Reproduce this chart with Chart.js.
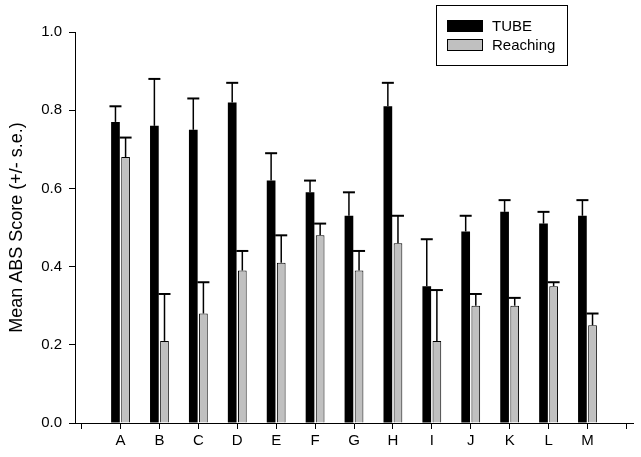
<!DOCTYPE html>
<html><head><meta charset="utf-8">
<script src="https://cdn.jsdelivr.net/npm/chart.js@4"></script>
<style>html,body{margin:0;padding:0;background:#fff}#wrap{width:641px;height:457px;position:relative}</style>
</head><body><div id="wrap"><canvas id="c"></canvas></div>
<script>
const categories = ['A','B','C','D','E','F','G','H','I','J','K','L','M'];
const seriesNames = ['TUBE','Reaching'];
const tubeMean = [0.77,0.76,0.75,0.82,0.62,0.59,0.53,0.81,0.35,0.49,0.54,0.51,0.53];
const tubeSE   = [0.04,0.12,0.08,0.05,0.07,0.03,0.06,0.06,0.12,0.04,0.03,0.03,0.04];
const reachMean = [0.68,0.21,0.28,0.39,0.41,0.48,0.39,0.46,0.21,0.30,0.30,0.35,0.25];
const reachSE   = [0.05,0.12,0.08,0.05,0.07,0.03,0.05,0.07,0.13,0.03,0.02,0.01,0.03];
const yTickStep = 0.2;

const FONT = '"Liberation Sans", Arial, sans-serif';
const toPoints = arr => arr.map((v,i)=>({x:i+1,y:v}));

const errorBars = {
  id:'errorBars',
  afterDatasetsDraw(chart){
    const ctx = chart.ctx, ys = chart.scales.y;
    chart.data.datasets.forEach((ds,i)=>{
      const meta = chart.getDatasetMeta(i);
      meta.data.forEach((bar,j)=>{
        const v = ds.data[j].y, e = ds.se[j];
        const yTop = ys.getPixelForValue(v+e);
        const yBase = ys.getPixelForValue(v);
        ctx.save();
        ctx.strokeStyle = '#000';
        ctx.lineWidth = 1.5;
        ctx.beginPath(); ctx.moveTo(bar.x, yBase); ctx.lineTo(bar.x, yTop); ctx.stroke();
        ctx.lineWidth = 2;
        ctx.beginPath(); ctx.moveTo(bar.x-6, yTop); ctx.lineTo(bar.x+6, yTop); ctx.stroke();
        ctx.restore();
      });
    });
  }
};

const boxLegend = {
  id:'boxLegend',
  afterDraw(chart){
    const ctx = chart.ctx;
    ctx.save();
    ctx.strokeStyle = '#000'; ctx.lineWidth = 1;
    ctx.strokeRect(436.5,5.5,131,60);
    chart.data.datasets.forEach((ds,i)=>{
      const y0 = 20 + i*19;
      ctx.fillStyle = ds.backgroundColor;
      ctx.fillRect(447,y0,36,12);
      ctx.strokeStyle = '#000';
      ctx.strokeRect(447.5,y0+0.5,35,11);
      ctx.fillStyle = '#000';
      ctx.font = '15px ' + FONT;
      ctx.textBaseline = 'middle';
      ctx.fillText(ds.label, 492, y0+6.5);
    });
    ctx.restore();
  }
};

new Chart(document.getElementById('c'), {
  type:'bar',
  data:{
    datasets:[
      {label:seriesNames[0], data:toPoints(tubeMean), se:tubeSE, backgroundColor:'#000000', borderColor:'#000', borderWidth:0},
      {label:seriesNames[1], data:toPoints(reachMean), se:reachSE, backgroundColor:'#c0c0c0', borderColor:'#000', borderWidth:1}
    ]
  },
  options:{
    responsive:true, maintainAspectRatio:false, animation:false, devicePixelRatio:1,
    categoryPercentage:0.52, barPercentage:0.86,
    layout:{padding:{left:0,top:32,right:8,bottom:0}},
    plugins:{legend:{display:false}, tooltip:{enabled:false}},
    scales:{
      x:{
        type:'linear', min:-0.17, max:14.17, offset:false,
        grid:{display:true, offset:false, drawOnChartArea:false, drawTicks:true, tickLength:6, color:'#000', lineWidth:1},
        border:{display:true, color:'#000', width:1},
        ticks:{stepSize:1, includeBounds:false, autoSkip:false, maxRotation:0, color:'#000', padding:3,
          font:{size:15, family:FONT},
          callback:v => categories[v-1] ?? ''},
        afterFit(s){ s.height = 34; }
      },
      y:{
        min:0, max:1,
        grid:{display:true, drawOnChartArea:false, drawTicks:true, tickLength:6, color:'#000', lineWidth:1},
        border:{display:true, color:'#000', width:1},
        ticks:{stepSize:yTickStep, color:'#000', padding:7, font:{size:15, family:FONT},
          callback:v => v.toFixed(1)},
        title:{display:true, text:'Mean ABS Score (+/- s.e.)', color:'#000', font:{size:18, family:FONT}, padding:{top:6,bottom:0}},
        afterFit(s){ s.width = 75; }
      }
    }
  },
  plugins:[errorBars, boxLegend]
});
</script></body></html>
